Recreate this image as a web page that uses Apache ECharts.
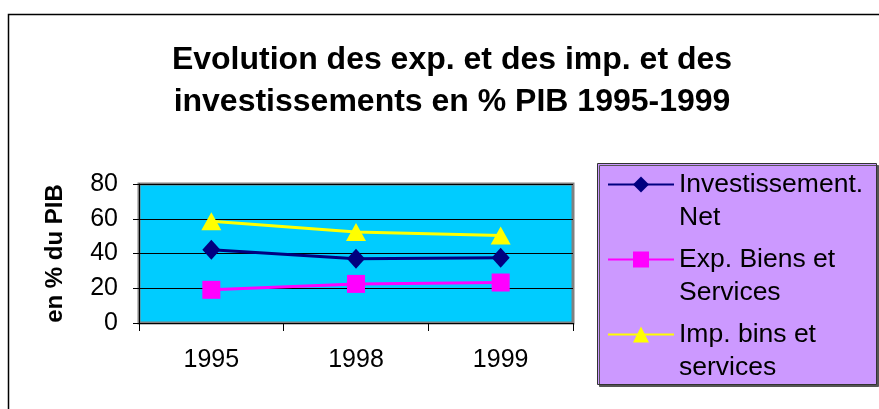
<!DOCTYPE html>
<html>
<head>
<meta charset="utf-8">
<script src="https://cdn.jsdelivr.net/npm/echarts@6/dist/echarts.min.js"></script>
<style>
  html, body { margin: 0; padding: 0; background: #fff; }
  #chart { width: 879px; height: 409px; }
</style>
</head>
<body>
<div id="chart"></div>
<script>
var years = ["1995", "1998", "1999"];
var investNet = [42.2, 37, 37.5];
var expBiens = [19.1, 22.5, 23.3];
var impBiens = [58.5, 52.4, 50.3];
var yTicks = [0, 20, 40, 60, 80];

var font = "'Liberation Sans', Arial, sans-serif";
var chart = echarts.init(document.getElementById("chart"));

chart.setOption({
  animation: false,
  textStyle: { fontFamily: font },
  title: {
    text: "Evolution des exp. et des imp. et des\ninvestissements en % PIB 1995-1999",
    left: 447,
    top: 34,
    textAlign: "center",
    textStyle: { fontSize: 32, fontWeight: "bold", lineHeight: 42, color: "#000", fontFamily: font }
  },
  graphic: [
    {
      // cadre du graphique
      type: "rect",
      silent: true,
      z: 0,
      shape: { x: 8.5, y: 14.5, width: 900, height: 420 },
      style: { fill: "none", stroke: "#000", lineWidth: 1.5 }
    },
    {
      // fond de la légende
      type: "rect",
      silent: true,
      z: 1,
      shape: { x: 597.5, y: 163.5, width: 279, height: 221 },
      style: {
        fill: "#CC99FF", stroke: "#333", lineWidth: 1,
        shadowColor: "#555", shadowOffsetX: 2, shadowOffsetY: 2, shadowBlur: 0
      }
    }
  ],
  legend: {
    orient: "vertical",
    left: 607,
    top: 135,
    itemWidth: 66,
    itemHeight: 20,
    itemGap: -24,
    padding: 0,
    z: 5,
    formatter: function (name) {
      // ligne vide en tête : le symbole s'aligne sur la première ligne
      return "\n" + name;
    },
    textStyle: { fontSize: 26.5, lineHeight: 33, color: "#000", fontFamily: font }
  },
  grid: {
    left: 139,
    top: 184,
    width: 434,
    height: 139,
    show: true,
    backgroundColor: "#00CCFF",
    borderColor: "#808080",
    borderWidth: 3
  },
  xAxis: {
    type: "category",
    data: years,
    boundaryGap: true,
    axisLine: { lineStyle: { color: "#000", width: 1 } },
    axisTick: { show: true, length: 8, lineStyle: { color: "#000" } },
    axisLabel: { color: "#000", fontSize: 25, margin: 25, fontFamily: font },
    splitLine: { show: false }
  },
  yAxis: {
    type: "value",
    min: yTicks[0],
    max: yTicks[yTicks.length - 1],
    interval: 20,
    name: "en % du PIB",
    nameLocation: "middle",
    nameRotate: 90,
    nameGap: 72,
    nameTextStyle: { fontSize: 24, fontWeight: "bold", color: "#000", fontFamily: font },
    axisLine: { show: true, lineStyle: { color: "#000", width: 1 } },
    axisTick: { show: true, length: 6, lineStyle: { color: "#000" } },
    axisLabel: { color: "#000", fontSize: 25, margin: 21, fontFamily: font },
    splitLine: { show: true, lineStyle: { color: "#000", width: 1 } }
  },
  series: [
    {
      name: "Investissement.\nNet",
      type: "line",
      data: investNet,
      symbol: "diamond",
      symbolSize: [18, 20],
      color: "#000080",
      lineStyle: { color: "#000080", width: 3 },
      itemStyle: { color: "#000080" }
    },
    {
      name: "Exp. Biens et\nServices",
      type: "line",
      data: expBiens,
      symbol: "rect",
      symbolSize: [18, 18],
      color: "#FF00FF",
      lineStyle: { color: "#FF00FF", width: 3 },
      itemStyle: { color: "#FF00FF" }
    },
    {
      name: "Imp. bins et\nservices",
      type: "line",
      data: impBiens,
      symbol: "triangle",
      symbolSize: [20, 18],
      color: "#FFFF00",
      lineStyle: { color: "#FFFF00", width: 3 },
      itemStyle: { color: "#FFFF00" }
    }
  ]
});
</script>
</body>
</html>
